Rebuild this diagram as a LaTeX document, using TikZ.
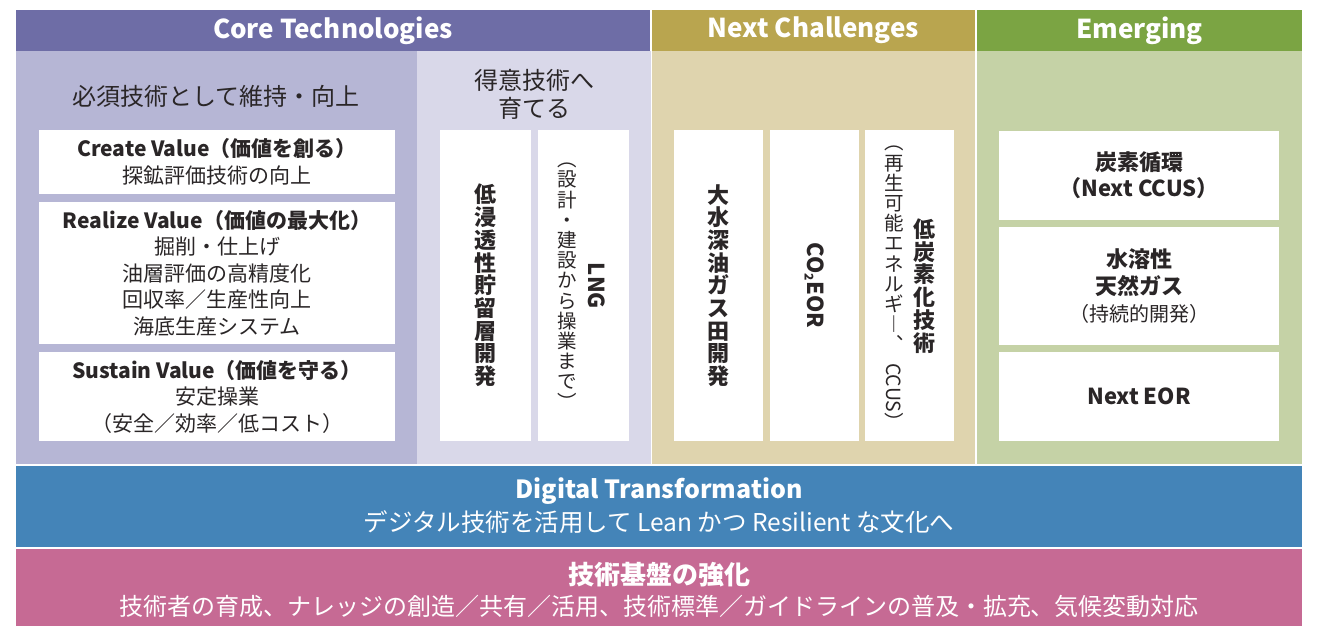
\documentclass[tikz,border=0pt]{standalone}
\usepackage{fontspec}
\setmainfont{Noto Sans CJK JP}
\usetikzlibrary{positioning}
\definecolor{coreHead}{HTML}{6E6DA6}
\definecolor{coreDeep}{HTML}{B6B6D5}
\definecolor{coreLight}{HTML}{D9D8E9}
\definecolor{nextHead}{HTML}{B9A54F}
\definecolor{nextBody}{HTML}{DFD4AE}
\definecolor{emHead}{HTML}{7BA443}
\definecolor{emBody}{HTML}{C5D2A6}
\definecolor{dxBlue}{HTML}{4484B8}
\definecolor{basePink}{HTML}{C66A94}
\definecolor{ink}{HTML}{2A2627}
\tikzset{%
	band/.style      = {anchor=north west, inner sep=0pt, outer sep=0pt},
	head/.style      = {text=white, font=\fontsize{26}{28}\selectfont\bfseries},
	lead/.style      = {text=ink, align=center, font=\fontsize{24}{28}\selectfont},
	card/.style      = {band, fill=white, text=ink, align=center, font=\fontsize{21}{26.5}\selectfont},
	tall/.style      = {band, fill=white, minimum height=311pt},
	stack/.style     = {text=ink, align=center, inner sep=0pt, font=\fontsize{22}{22.7}\selectfont\bfseries},
	stacknote/.style = {text=ink, align=center, inner sep=0pt, font=\fontsize{19.5}{20.2}\selectfont},
	bandtext/.style  = {text=white, font=\fontsize{24.5}{28}\selectfont},
}

\begin{document}
\begin{tikzpicture}[x=1pt,y=-1pt]
	\useasboundingbox (0,0) rectangle (1317,626);
	
	\node[band, fill=coreHead, minimum width=634pt, minimum height=41pt, head] (corehead) at (16,10) {Core Technologies};
	\node[band, fill=nextHead, minimum width=323pt, minimum height=41pt, head] (nexthead) at (652,10) {Next Challenges};
	\node[band, fill=emHead, minimum width=325pt, minimum height=41pt, head] (emhead) at (977,10) {Emerging};
	
	\node[band, fill=coreDeep, minimum width=401pt, minimum height=413pt] (coreleft) at (16,51) {};
	\node[band, fill=coreLight, minimum width=234pt, minimum height=413pt] (coreright) at (417,51) {};
	\node[band, fill=nextBody, minimum width=323pt, minimum height=413pt] (nextbody) at (652,51) {};
	\node[band, fill=emBody, minimum width=325pt, minimum height=413pt] (embody) at (977,51) {};
	\node[band, fill=dxBlue, minimum width=1286pt, minimum height=81pt] (dx) at (16,466) {};
	\node[band, fill=basePink, minimum width=1286pt, minimum height=77pt] (base) at (16,549) {};
	
	\node[lead] (mustkeep) at (216,96) {必須技術として維持・向上};
	\node[lead] (grow) at (534,94) {得意技術へ\\育てる};
	
	\node[card, minimum width=356pt, minimum height=64pt] (create) at (39,130) {\textbf{Create Value（価値を創る）}\\探鉱評価技術の向上};
	\node[card, minimum width=356pt, minimum height=142pt] (realize) at (39,202) {\textbf{Realize Value（価値の最大化）}\\掘削・仕上げ\\油層評価の高精度化\\回収率／生産性向上\\海底生産システム};
	\node[card, minimum width=356pt, minimum height=89pt] (sustain) at (39,352) {\textbf{Sustain Value（価値を守る）}\\安定操業\\（安全／効率／低コスト）};
	
	\node[tall, minimum width=91pt] (lowperm) at (440,130) {};
	\node[tall, minimum width=91pt] (lng) at (538,130) {};
	\node[tall, minimum width=89pt] (deepwater) at (674,130) {};
	\node[tall, minimum width=89pt] (co2eor) at (770,130) {};
	\node[tall, minimum width=89pt] (lowcarbon) at (865,130) {};
	
	\node[stack] (lowpermtext) at (lowperm.center) {低\\浸\\透\\性\\貯\\留\\層\\開\\発};
	\node[stack] (lngtitle) at (597,286) {\rotatebox{-90}{LNG}};
	\node[stacknote] (lngnote) at (567,286) {︵\\設\\計\\・\\建\\設\\か\\ら\\操\\業\\ま\\で\\︶};
	\node[stack] (deepwatertext) at (deepwater.center) {大\\水\\深\\油\\ガ\\ス\\田\\開\\発};
	\node[stack] (co2eortext) at (co2eor.center) {\rotatebox{-90}{CO\raisebox{-0.15em}{\fontsize{12}{12}\selectfont 2}EOR}};
	\node[stack] (lowcarbontitle) at (924,286) {低\\炭\\素\\化\\技\\術};
	\node[stacknote] (lowcarbonnote) at (894,288) {︵\\再\\生\\可\\能\\エ\\ネ\\ル\\ギ\\︱\\︑\\[-9pt]\rotatebox{-90}{CCUS}\\︶};
	
	\node[card, minimum width=280pt, minimum height=89pt, font=\fontsize{22}{26}\selectfont\bfseries] (carbon) at (999,131) {炭素循環\\（Next CCUS）};
	\node[card, minimum width=280pt, minimum height=118pt, font=\fontsize{22}{27}\selectfont] (watergas) at (999,227) {\textbf{水溶性}\\\textbf{天然ガス}\\{\fontsize{20}{27}\selectfont（持続的開発）}};
	\node[card, minimum width=280pt, minimum height=89pt, font=\fontsize{22}{26}\selectfont\bfseries] (nexteor) at (999,352) {Next EOR};
	
	\node[bandtext, font=\fontsize{25}{28}\selectfont\bfseries] (dxtitle) at (659,491) {Digital Transformation};
	\node[bandtext] (dxnote) at (659,522) {デジタル技術を活用して Lean かつ Resilient な文化へ};
	\node[bandtext, font=\fontsize{26}{28}\selectfont\bfseries] (basetitle) at (659,575) {技術基盤の強化};
	\node[bandtext, font=\fontsize{24}{28}\selectfont] (basenote) at (659,606) {技術者の育成、ナレッジの創造／共有／活用、技術標準／ガイドラインの普及・拡充、気候変動対応};
\end{tikzpicture}
\end{document}
